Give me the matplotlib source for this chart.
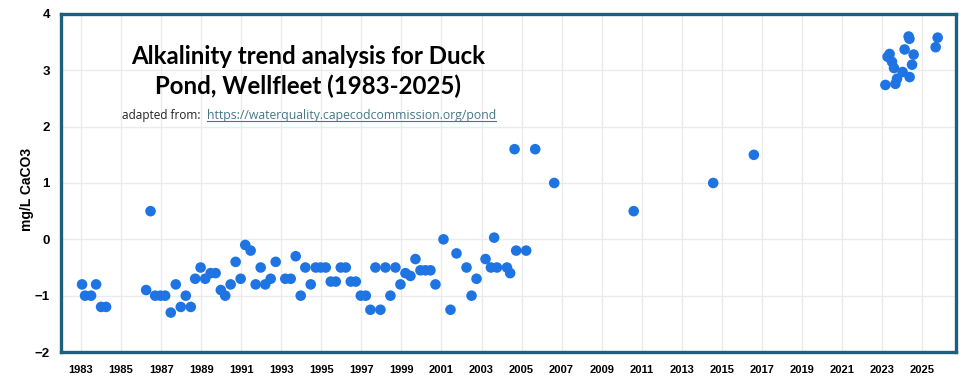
import numpy as np
import matplotlib.pyplot as plt
from matplotlib.lines import Line2D

# sample dates (decimal years) and alkalinity (mg/L CaCO3)
years = [
    1983.05, 1983.20, 1983.50, 1983.75, 1984.00, 1984.25,
    1986.25, 1986.47, 1986.70, 1986.97, 1987.20, 1987.48, 1987.73, 1987.98,
    1988.23, 1988.48, 1988.70, 1988.97, 1989.20, 1989.47, 1989.72, 1989.98,
    1990.20, 1990.47, 1990.72, 1990.97, 1991.20, 1991.47, 1991.72, 1991.97,
    1992.20, 1992.47, 1992.72, 1993.20, 1993.47, 1993.72, 1993.97,
    1994.20, 1994.47, 1994.72, 1994.97, 1995.22, 1995.47, 1995.72, 1995.97,
    1996.22, 1996.47, 1996.72, 1996.97, 1997.22, 1997.45, 1997.70, 1997.95,
    1998.20, 1998.45, 1998.70, 1998.95, 1999.20, 1999.45, 1999.70, 1999.95,
    2000.20, 2000.45, 2000.70, 2001.10, 2001.45, 2001.75, 2002.25, 2002.50,
    2002.75, 2003.20, 2003.47, 2003.63, 2003.77, 2004.27, 2004.43, 2004.65,
    2004.73, 2005.23, 2005.68, 2006.63, 2010.60, 2014.57, 2016.60,
    2023.17, 2023.28, 2023.38, 2023.50, 2023.60, 2023.67, 2023.75, 2024.03,
    2024.13, 2024.33, 2024.37, 2024.38, 2024.50, 2024.58, 2025.68, 2025.78,
]
alkalinity = [
    -0.8, -1.0, -1.0, -0.8, -1.2, -1.2,
    -0.9, 0.5, -1.0, -1.0, -1.0, -1.3, -0.8, -1.2,
    -1.0, -1.2, -0.7, -0.5, -0.7, -0.6, -0.6, -0.9,
    -1.0, -0.8, -0.4, -0.7, -0.1, -0.2, -0.8, -0.5,
    -0.8, -0.7, -0.4, -0.7, -0.7, -0.3, -1.0,
    -0.5, -0.8, -0.5, -0.5, -0.5, -0.75, -0.75, -0.5,
    -0.5, -0.75, -0.75, -1.0, -1.0, -1.25, -0.5, -1.25,
    -0.5, -1.0, -0.5, -0.8, -0.6, -0.65, -0.35, -0.55,
    -0.55, -0.55, -0.8, 0.0, -1.25, -0.25, -0.5, -1.0,
    -0.7, -0.35, -0.5, 0.03, -0.5, -0.5, -0.6, 1.6,
    -0.2, -0.2, 1.6, 1.0, 0.5, 1.0, 1.5,
    2.74, 3.24, 3.29, 3.15, 3.04, 2.76, 2.85, 2.97,
    3.37, 3.6, 3.56, 2.88, 3.1, 3.28, 3.41, 3.58,
]

year_ticks = list(range(1983, 2026, 2))
value_ticks = [-2, -1, 0, 1, 2, 3, 4]

frame_color = '#1d5f7c'
dot_color = '#1f74e3'

fig = plt.figure(figsize=(9.75, 3.85), dpi=100)
ax = fig.add_axes([0.0626, 0.0857, 0.918, 0.878])

ax.scatter(years, alkalinity, s=58, color=dot_color, edgecolors='none', zorder=3)

ax.set_xlim(1982.0, 2026.7)
ax.set_ylim(-2, 4)
ax.set_xticks(year_ticks)
ax.set_yticks(value_ticks)
ax.grid(True, color='#ebebeb', linewidth=1.0, zorder=0)
ax.set_axisbelow(True)
ax.tick_params(axis='both', length=0)
ax.tick_params(axis='x', pad=9, labelsize=8)
ax.tick_params(axis='y', pad=8, labelsize=9.5)
for lab in ax.get_xticklabels() + ax.get_yticklabels():
    lab.set_fontweight('bold')
    lab.set_fontfamily('Liberation Sans')

for sp in ax.spines.values():
    sp.set_color(frame_color)
    sp.set_linewidth(2.4)

ax.set_ylabel('mg/L CaCO3', fontsize=10, fontweight='bold',
              fontfamily='Liberation Sans')
ax.yaxis.set_label_coords(-0.030, 0.48)

# title block inside the plot area
fig.text(308 / 975, 1 - 71.5 / 385,
         'Alkalinity trend analysis for Duck\nPond, Wellfleet (1983-2025)',
         ha='center', va='center', fontsize=17.3, fontweight='bold',
         fontfamily='Lato', linespacing=1.32)

t1 = fig.text(122 / 975, 1 - 116 / 385, 'adapted from:  ', ha='left', va='center',
              fontsize=8.5, color='#222222', fontfamily='Open Sans')
fig.canvas.draw()
bb = t1.get_window_extent()
x_link = bb.x1 / fig.bbox.width
t2 = fig.text(x_link, 1 - 116 / 385, 'https://waterquality.capecodcommission.org/pond',
              ha='left', va='center', fontsize=8.8, color='#467886',
              fontfamily='Open Sans')
fig.canvas.draw()
bb2 = t2.get_window_extent()
y_line = (bb2.y0 + 1.5) / fig.bbox.height
fig.add_artist(Line2D([bb2.x0 / fig.bbox.width, bb2.x1 / fig.bbox.width],
                      [y_line, y_line], transform=fig.transFigure,
                      color='#467886', linewidth=0.8))

fig.savefig('out.png', dpi=100)
